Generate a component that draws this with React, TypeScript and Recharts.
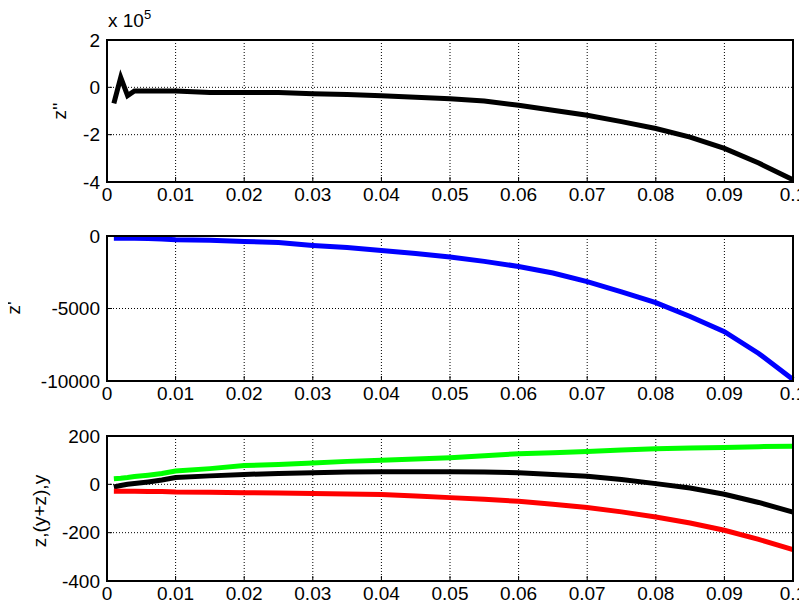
import { CartesianGrid, Line, LineChart, XAxis, YAxis } from "recharts";

const xs = [
  0.001, 0.002, 0.003, 0.004, 0.006, 0.008, 0.01, 0.015, 0.02, 0.025, 0.03, 0.035, 0.04,
  0.045, 0.05, 0.055, 0.06, 0.065, 0.07, 0.075, 0.08, 0.085, 0.09, 0.095, 0.1,
];

// z'' in units of 1e5
const zpp = [
  -0.68, 0.42, -0.35, -0.15, -0.15, -0.15, -0.16, -0.22, -0.22, -0.22, -0.27, -0.3, -0.36,
  -0.42, -0.48, -0.58, -0.76, -0.97, -1.18, -1.45, -1.74, -2.1, -2.58, -3.2, -3.9,
];

const zp = [
  -150, -150, -150, -160, -170, -200, -260, -300, -380, -450, -650, -800, -1000, -1200, -1450,
  -1750, -2100, -2550, -3150, -3850, -4600, -5550, -6600, -8100, -9900,
];

const yVals = [
  23, 25, 28, 32, 38, 45, 55, 65, 78, 82, 88, 95, 100, 105, 110, 118, 127, 131, 136, 142, 147,
  150, 152, 156, 158,
];

const yzVals = [
  -11, -5, 0, 3, 10, 18, 28, 35, 41, 45, 48, 51, 52, 52, 52, 51, 48, 41, 33, 20, 3, -15, -41,
  -75, -115,
];

const zVals = [
  -29, -29, -29, -29, -30, -30, -32, -33, -35, -36, -38, -40, -42, -48, -55, -62, -70, -82, -96,
  -114, -135, -160, -190, -228, -270,
];

const xTicks = [0, 0.01, 0.02, 0.03, 0.04, 0.05, 0.06, 0.07, 0.08, 0.09, 0.1];

const W = 807;
const PLOT_LEFT = 107;
const PLOT_RIGHT = 793;
const FONT = "'Liberation Sans', Arial, sans-serif";
const FS = 19;

const data = xs.map((x, i) => ({
  x,
  zppRaw: zpp[i] * 100000,
  zp: zp[i],
  y: yVals[i],
  yz: yzVals[i],
  z: zVals[i],
}));

function formatX(v: number) {
  if (v === 0) return "0";
  if (v === 0.1) return "0.1";
  return v.toFixed(2);
}

const tickStyle = { fill: "#000", fontSize: FS, fontFamily: FONT };
const axisLine = { stroke: "#000", strokeWidth: 2 };
const tickLine = { stroke: "#000", strokeWidth: 1 };
const X_AXIS_H = 22;

interface PanelProps {
  top: number;
  height: number;
  marginTop: number;
  marginBottom: number;
  domain: [number, number];
  yTicks: number[];
  yFormat?: (v: number) => string;
  series: { key: string; color: string }[];
}

function Panel({ top, height, marginTop, marginBottom, domain, yTicks, yFormat, series }: PanelProps) {
  const plotH = height - marginTop - marginBottom - X_AXIS_H;
  return (
    <>
      <div style={{ position: "absolute", left: 0, top }}>
        <LineChart
          width={W}
          height={height}
          data={data}
          margin={{ top: marginTop, right: W - PLOT_RIGHT, left: 0, bottom: marginBottom }}
        >
          <CartesianGrid stroke="#000" strokeDasharray="1 2" strokeWidth={1} />
          <XAxis
            dataKey="x"
            type="number"
            domain={[0, 0.1]}
            ticks={xTicks}
            tickFormatter={formatX}
            tick={tickStyle}
            axisLine={axisLine}
            tickLine={tickLine}
            tickSize={-5}
            tickMargin={11}
            height={X_AXIS_H}
            interval={0}
          />
          <YAxis
            type="number"
            domain={domain}
            ticks={yTicks}
            tick={tickStyle}
            tickFormatter={yFormat}
            axisLine={axisLine}
            tickLine={tickLine}
            tickSize={-5}
            tickMargin={12}
            width={PLOT_LEFT}
            interval={0}
          />
          {series.map((s) => (
            <Line
              key={s.key}
              dataKey={s.key}
              stroke={s.color}
              strokeWidth={5}
              dot={false}
              isAnimationActive={false}
              type="linear"
            />
          ))}
        </LineChart>
      </div>
      {/* axes box (top and right edges) */}
      <div
        style={{
          position: "absolute",
          left: PLOT_LEFT - 1,
          top: top + marginTop - 1,
          width: PLOT_RIGHT - PLOT_LEFT + 2,
          height: plotH + 2,
          border: "2px solid #000",
          boxSizing: "border-box",
          pointerEvents: "none",
        }}
      />
    </>
  );
}

const labelStyle: React.CSSProperties = {
  position: "absolute",
  fontFamily: FONT,
  fontSize: FS,
  color: "#000",
  transform: "translate(-50%, -50%) rotate(-90deg)",
  whiteSpace: "nowrap",
};

export default function App() {
  return (
    <div
      style={{
        position: "relative",
        width: W,
        height: 612,
        background: "#fff",
        margin: -8,
        overflow: "hidden",
      }}
    >
      <div
        style={{
          position: "absolute",
          left: 108,
          top: 11,
          fontFamily: FONT,
          fontSize: FS,
          lineHeight: "20px",
        }}
      >
        x 10<span style={{ fontSize: 13, position: "relative", top: -8 }}>5</span>
      </div>
      <Panel
        top={0}
        height={210}
        marginTop={40}
        marginBottom={6}
        domain={[-400000, 200000]}
        yTicks={[-400000, -200000, 0, 200000]}
        yFormat={(v: number) => String(v / 100000)}
        series={[{ key: "zppRaw", color: "#000" }]}
      />
      <Panel
        top={200}
        height={210}
        marginTop={36}
        marginBottom={7}
        domain={[-10000, 0]}
        yTicks={[-10000, -5000, 0]}
        series={[{ key: "zp", color: "#0000ff" }]}
      />
      <Panel
        top={400}
        height={212}
        marginTop={36}
        marginBottom={9}
        domain={[-400, 200]}
        yTicks={[-400, -200, 0, 200]}
        series={[
          { key: "y", color: "#00ff00" },
          { key: "yz", color: "#000" },
          { key: "z", color: "#ff0000" },
        ]}
      />
      <div style={{ ...labelStyle, left: 60, top: 111 }}>z''</div>
      <div style={{ ...labelStyle, left: 14, top: 308 }}>z'</div>
      <div style={{ ...labelStyle, left: 40, top: 511 }}>z,(y+z),y</div>
    </div>
  );
}
